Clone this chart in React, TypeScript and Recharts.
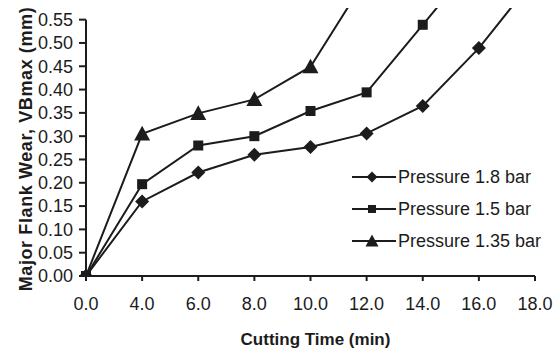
import React from 'react'
import { LineChart, Line, XAxis, YAxis, Legend, ReferenceLine } from 'recharts'

const times = ['0.0', '4.0', '6.0', '8.0', '10.0', '12.0', '14.0', '16.0', '18.0']
const p18 = [0, 0.16, 0.222, 0.26, 0.277, 0.306, 0.365, 0.489, 0.64]
const p15 = [0, 0.197, 0.28, 0.3, 0.354, 0.394, 0.539, 0.684, null]
const p135 = [0, 0.305, 0.349, 0.379, 0.449, 0.64, null, null, null]
const yTicks = [0, 0.05, 0.1, 0.15, 0.2, 0.25, 0.3, 0.35, 0.4, 0.45, 0.5, 0.55]

const data = times.map((t, i) => ({ t, p18: p18[i], p15: p15[i], p135: p135[i] }))

const INK = '#1c1c1c'
const FONT = '"Liberation Sans", Arial, sans-serif'

type Shape = 'diamond' | 'square' | 'triangle'

function marker(shape: Shape, cx: number, cy: number, s: number, key?: string) {
  if (shape === 'diamond') {
    const r = s / 2
    return (
      <polygon key={key} points={`${cx},${cy - r} ${cx + r},${cy} ${cx},${cy + r} ${cx - r},${cy}`} fill={INK} />
    )
  }
  if (shape === 'square') {
    const r = s / 2
    return <rect key={key} x={cx - r} y={cy - r} width={s} height={s} fill={INK} />
  }
  const h = s * 0.92
  return (
    <polygon
      key={key}
      points={`${cx},${cy - h * 0.55} ${cx + s / 2},${cy + h * 0.45} ${cx - s / 2},${cy + h * 0.45}`}
      fill={INK}
    />
  )
}

const dotOf = (shape: Shape, size: number) => (props: any) => {
  const { cx, cy, index, value } = props
  if (cx == null || cy == null || value == null) return <g key={`${shape}-${index}`} />
  return marker(shape, cx, cy, size, `${shape}-${index}`)
}

const series = [
  { key: 'p18', name: 'Pressure 1.8 bar', shape: 'diamond' as Shape, size: 14, legendSize: 11 },
  { key: 'p15', name: 'Pressure 1.5 bar', shape: 'square' as Shape, size: 10, legendSize: 8 },
  { key: 'p135', name: 'Pressure 1.35 bar', shape: 'triangle' as Shape, size: 16, legendSize: 13 },
]

function LegendBox() {
  return (
    <div style={{ fontFamily: FONT, fontSize: 18, color: INK }}>
      {series.map((s) => (
        <div key={s.key} style={{ display: 'flex', alignItems: 'center', height: 32 }}>
          <svg width={47} height={20} style={{ display: 'block' }}>
            <line x1={2} y1={10} x2={46} y2={10} stroke={INK} strokeWidth={2} />
            {marker(s.shape, 22, 10, s.legendSize)}
          </svg>
          <span style={{ marginLeft: 1, whiteSpace: 'nowrap' }}>{s.name}</span>
        </div>
      ))}
    </div>
  )
}

export default function App() {
  return (
    <div style={{ position: 'absolute', left: 0, top: 0, width: 554, height: 353, background: '#fff' }}>
      <LineChart width={554} height={353} data={data} margin={{ top: 8, right: 19, left: 0, bottom: 0 }}>
        <XAxis
          dataKey="t"
          height={77}
          axisLine={{ stroke: INK, strokeWidth: 2 }}
          tickLine={{ stroke: INK, strokeWidth: 2 }}
          tickSize={5}
          tickMargin={16}
          tick={{ fill: INK, fontSize: 18, fontFamily: FONT }}
          interval={0}
          label={{
            content: (p: any) => {
              const vb = p.viewBox
              return (
                <text
                  x={vb.x + vb.width / 2 + 5}
                  y={vb.y + 63}
                  textAnchor="middle"
                  dominantBaseline="central"
                  fontFamily={FONT}
                  fontSize={17}
                  fontWeight="bold"
                  fill={INK}
                >
                  Cutting Time (min)
                </text>
              )
            },
          }}
        />
        <YAxis
          width={86}
          domain={[0, 0.575]}
          ticks={yTicks}
          interval={0}
          allowDataOverflow
          axisLine={false}
          tickLine={{ stroke: INK, strokeWidth: 2 }}
          tickSize={7}
          tickMargin={6}
          tickFormatter={(v: number) => v.toFixed(2)}
          tick={{ fill: INK, fontSize: 18, fontFamily: FONT }}
          label={{
            content: (p: any) => {
              const vb = p.viewBox
              const x = vb.x + 26
              const y = vb.y + vb.height / 2 + 7
              return (
                <text
                  x={x}
                  y={y}
                  transform={`rotate(-90 ${x} ${y})`}
                  textAnchor="middle"
                  dominantBaseline="central"
                  fontFamily={FONT}
                  fontSize={18}
                  fontWeight="bold"
                  fill={INK}
                  letterSpacing={0.6}
                >
                  Major Flank Wear, VBmax (mm)
                </text>
              )
            },
          }}
        />
        <ReferenceLine
          segment={[
            { x: '0.0', y: 0 },
            { x: '0.0', y: 0.55 },
          ]}
          stroke={INK}
          strokeWidth={2}
        />
        <Legend
          layout="horizontal"
          verticalAlign="middle"
          align="center"
          wrapperStyle={{ left: 350, top: 161, width: 200 }}
          content={() => <LegendBox />}
        />
        {series.map((s) => (
          <Line
            key={s.key}
            dataKey={s.key}
            name={s.name}
            stroke={INK}
            strokeWidth={2}
            dot={dotOf(s.shape, s.size)}
            activeDot={false}
            isAnimationActive={false}
            legendType="none"
          />
        ))}
      </LineChart>
    </div>
  )
}
